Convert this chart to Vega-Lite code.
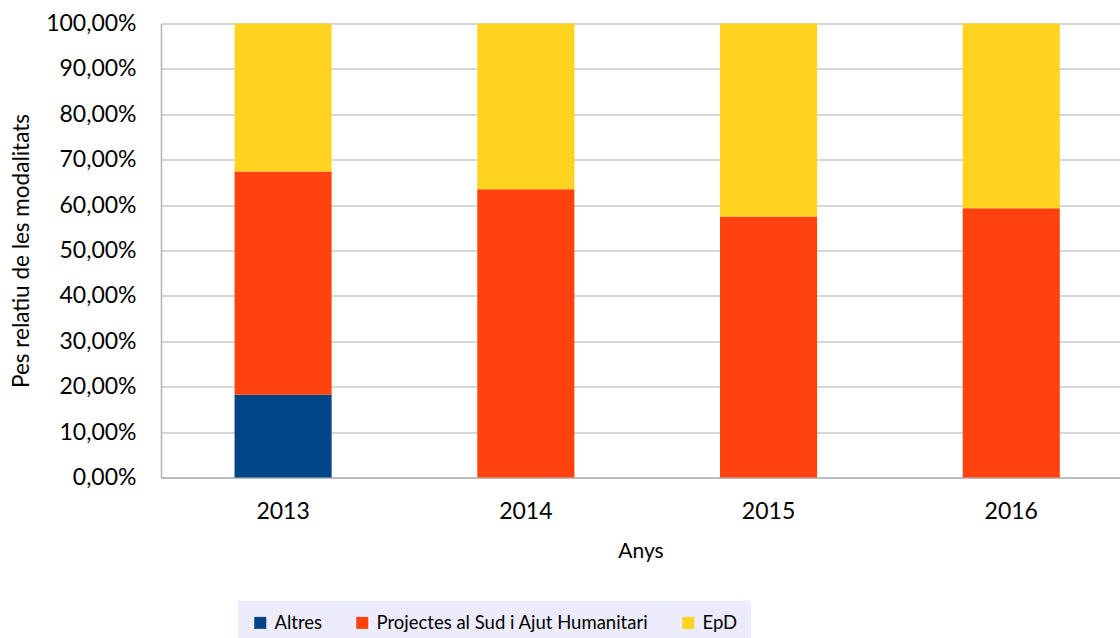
{
  "$schema": "https://vega.github.io/schema/vega-lite/v6.json",
  "autosize": "none",
  "width": 959,
  "height": 454,
  "padding": {"left": 161, "top": 23.5, "right": 0, "bottom": 160},
  "background": "white",
  "data": {
    "values": [
      {"any": "2013", "modalitat": "Altres", "ordre": 1, "pes": 0.182},
      {"any": "2013", "modalitat": "Projectes al Sud i Ajut Humanitari", "ordre": 2, "pes": 0.492},
      {"any": "2013", "modalitat": "EpD", "ordre": 3, "pes": 0.326},
      {"any": "2014", "modalitat": "Projectes al Sud i Ajut Humanitari", "ordre": 2, "pes": 0.635},
      {"any": "2014", "modalitat": "EpD", "ordre": 3, "pes": 0.365},
      {"any": "2015", "modalitat": "Projectes al Sud i Ajut Humanitari", "ordre": 2, "pes": 0.575},
      {"any": "2015", "modalitat": "EpD", "ordre": 3, "pes": 0.425},
      {"any": "2016", "modalitat": "Projectes al Sud i Ajut Humanitari", "ordre": 2, "pes": 0.593},
      {"any": "2016", "modalitat": "EpD", "ordre": 3, "pes": 0.407}
    ]
  },
  "mark": {"type": "bar"},
  "encoding": {
    "x": {
      "field": "any",
      "type": "ordinal",
      "title": "Anys",
      "scale": {"paddingInner": 0.6, "paddingOuter": 0.2755, "align": 0.55},
      "axis": {
        "labelAngle": 0,
        "labelFontSize": 23,
        "labelPadding": 23,
        "titleFontSize": 21,
        "titleFontWeight": "normal",
        "titlePadding": 17,
        "ticks": false,
        "domainColor": "#b3b3b3",
        "domainWidth": 1.5
      }
    },
    "y": {
      "field": "pes",
      "type": "quantitative",
      "stack": "zero",
      "title": "Pes relatiu de les modalitats",
      "scale": {"domain": [0, 1]},
      "axis": {
        "values": [0, 0.1, 0.2, 0.3, 0.4, 0.5, 0.6, 0.7, 0.8, 0.9, 1],
        "labelExpr": "replace(format(datum.value, '.2%'), '.', ',')",
        "labelFontSize": 23,
        "labelPadding": 25,
        "ticks": false,
        "grid": true,
        "gridColor": "#c8c8c8",
        "gridWidth": 1.5,
        "domainColor": "#b3b3b3",
        "domainWidth": 1.5,
        "titleFontSize": 22.5,
        "titleFontWeight": "normal",
        "titlePadding": 12
      }
    },
    "color": {
      "field": "modalitat",
      "type": "nominal",
      "scale": {
        "domain": ["Altres", "Projectes al Sud i Ajut Humanitari", "EpD"],
        "range": ["#004586", "#ff420e", "#ffd320"]
      },
      "legend": {
        "title": null,
        "orient": "none",
        "direction": "horizontal",
        "legendX": 77,
        "legendY": 577,
        "fillColor": "#ececfc",
        "padding": 13,
        "symbolType": "square",
        "symbolSize": 144,
        "symbolStrokeWidth": 0,
        "labelFontSize": 18.5,
        "labelOffset": 5,
        "columnPadding": 30,
        "labelLimit": 400
      }
    },
    "order": {"field": "ordre", "type": "quantitative"}
  },
  "config": {
    "font": "Lato",
    "view": {"stroke": null},
    "axis": {"labelColor": "#000", "titleColor": "#000"},
    "legend": {"labelColor": "#000"}
  }
}
